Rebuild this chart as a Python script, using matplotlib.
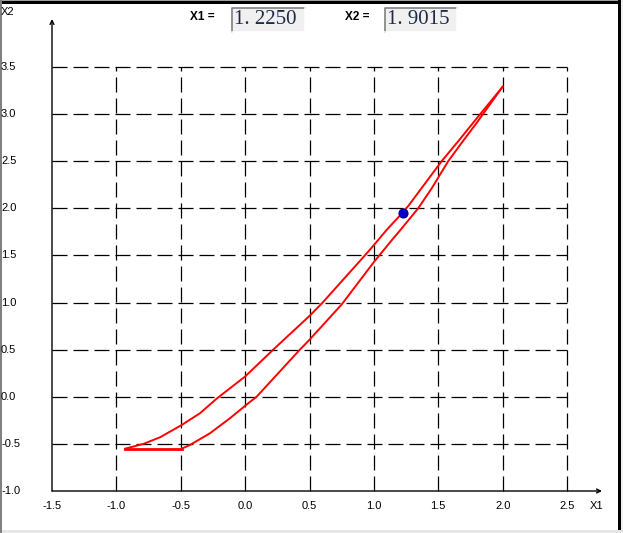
import matplotlib
matplotlib.use("Agg")
import matplotlib.pyplot as plt
from matplotlib.patches import Rectangle
from matplotlib.lines import Line2D

# ---------------- data ----------------
x_ticks = [-1.5, -1.0, -0.5, 0.0, 0.5, 1.0, 1.5, 2.0, 2.5]
y_ticks = [-1.0, -0.5, 0.0, 0.5, 1.0, 1.5, 2.0, 2.5, 3.0, 3.5]

upper_x = [-0.933, -0.79, -0.661, -0.493, -0.351, -0.221, -0.118, 0.0, 0.218, 0.5,
           0.602, 0.93, 1.0, 1.099, 1.2, 1.27, 1.39, 1.526, 1.66, 1.79, 2.0]
upper_y = [-0.551, -0.50, -0.43, -0.30, -0.175, -0.02, 0.09, 0.215, 0.5, 0.858,
           1.0, 1.5, 1.61, 1.771, 1.92, 2.03, 2.25, 2.5, 2.72, 2.94, 3.29]

lower_x = [-0.493, -0.429, -0.273, -0.118, 0.024, 0.089, 0.425, 0.5, 0.75, 1.0,
           1.15, 1.2, 1.344, 1.448, 1.577, 1.69, 1.80, 2.0]
lower_y = [-0.551, -0.512, -0.387, -0.228, -0.069, 0.0, 0.5, 0.605, 0.98, 1.43,
           1.68, 1.76, 2.0, 2.21, 2.5, 2.71, 2.91, 3.29]

base_x = [-0.933, -0.493]
base_y = [-0.551, -0.551]

point_x = 1.227
point_y = 1.948

readout_x1 = 1.2250
readout_x2 = 1.9015

# ---------------- figure ----------------
W, H = 623, 533
fig = plt.figure(figsize=(W / 100, H / 100), dpi=100)
fig.patch.set_facecolor("white")

def fx(px):
    return px / W

def fy(py):
    return 1 - py / H

# axes placement: -1.5 -> px 52, 2.5 -> px 567 ; -1 -> py 491, 3.5 -> py 67
ax = fig.add_axes([fx(52), fy(491), (567 - 52) / W, (491 - 67) / H])
ax.set_xlim(-1.5, 2.5)
ax.set_ylim(-1.0, 3.5)
ax.axis("off")

xu = 515 / 4.0   # px per unit x
yu = 424 / 4.5   # px per unit y

# grid
dash = (0, (12, 4.8))
for xv in x_ticks[1:]:
    ax.add_line(Line2D([xv, xv], [-1.0, 3.5], color="black", lw=0.9,
                       linestyle=dash, clip_on=False))
for yv in y_ticks[1:]:
    ax.add_line(Line2D([-1.5, 2.5], [yv, yv], color="black", lw=0.9,
                       linestyle=dash, clip_on=False))

# axes with arrows
x_end = 2.5 + 35 / xu
y_end = 3.5 + 48 / yu
ax.annotate("", xy=(x_end, -1.0), xytext=(-1.5, -1.0),
            arrowprops=dict(arrowstyle="->", lw=1.0, color="black",
                            shrinkA=0, shrinkB=0, mutation_scale=7),
            annotation_clip=False)
ax.annotate("", xy=(-1.5, y_end), xytext=(-1.5, -1.0),
            arrowprops=dict(arrowstyle="->", lw=1.0, color="black",
                            shrinkA=0, shrinkB=0, mutation_scale=7),
            annotation_clip=False)

# tick labels
lab_font = dict(family="Liberation Sans", fontsize=8, color="black")
for xv in x_ticks:
    fig.text(fx(52 + (xv + 1.5) * xu), fy(506), f"{xv:.1f}", ha="center",
             va="center", **lab_font)
for yv in y_ticks:
    fig.text(fx(1), fy(491 - (yv + 1.0) * yu), f"{yv:.1f}", ha="left",
             va="center", **lab_font)
fig.text(fx(590), fy(506), "X1", ha="left", va="center", **lab_font)
fig.text(fx(1), fy(12), "X2", ha="left", va="center", **lab_font)

# curves
ax.plot(upper_x, upper_y, color="#ff0000", lw=1.4, clip_on=False,
        solid_joinstyle="round")
ax.plot(lower_x, lower_y, color="#ff0000", lw=1.4, clip_on=False,
        solid_joinstyle="round")
ax.plot(base_x, base_y, color="#ff0000", lw=2.0, clip_on=False)
ax.plot([point_x], [point_y], "o", ms=6.5, color="#0000c8",
        markeredgecolor="#000080", markeredgewidth=0.8, zorder=5, clip_on=False)

# readouts
def readout(label, lx, bx0, bx1, value):
    fig.text(fx(lx), fy(17), label, ha="left", va="center",
             family="Liberation Sans", fontweight="bold", fontsize=8.5)
    fig.add_artist(Rectangle((fx(bx0), fy(32)), fx(bx1 - bx0), (32 - 8) / H,
                             transform=fig.transFigure, facecolor="#f0f0f0",
                             edgecolor="none"))
    fig.add_artist(Line2D([fx(bx0), fx(bx0), fx(bx1)], [fy(32), fy(8), fy(8)],
                          transform=fig.transFigure, color="#808080", lw=1.2))
    fig.add_artist(Line2D([fx(bx0), fx(bx1), fx(bx1)], [fy(32), fy(32), fy(8)],
                          transform=fig.transFigure, color="#ffffff", lw=1.2))
    txt = f"{value:.4f}".replace(".", ". ")
    fig.text(fx(bx0 + 2), fy(20), txt, ha="left", va="center",
             family="Liberation Serif", fontsize=15, color="#1f2a48")

readout("X1 =", 190, 232, 305, readout_x1)
readout("X2 =", 345, 385, 457, readout_x2)

# window frame
fig.add_artist(Rectangle((0, fy(4)), 1, 4 / H, transform=fig.transFigure,
                         facecolor="black", edgecolor="none"))
fig.add_artist(Rectangle((0, fy(1)), 1, 1 / H, transform=fig.transFigure,
                         facecolor="#a0a0a0", edgecolor="none"))
fig.add_artist(Rectangle((fx(618), 0), 3 / W, 1, transform=fig.transFigure,
                         facecolor="black", edgecolor="none"))
fig.add_artist(Rectangle((fx(621), 0), 2 / W, 1, transform=fig.transFigure,
                         facecolor="#f0f0f0", edgecolor="none"))
fig.add_artist(Rectangle((0, 0), 1, 3 / H, transform=fig.transFigure,
                         facecolor="#e6e6e6", edgecolor="none"))
fig.add_artist(Rectangle((0, 0), 1.5 / W, 1, transform=fig.transFigure,
                         facecolor="#808080", edgecolor="none"))

fig.savefig("out.png", dpi=100)
